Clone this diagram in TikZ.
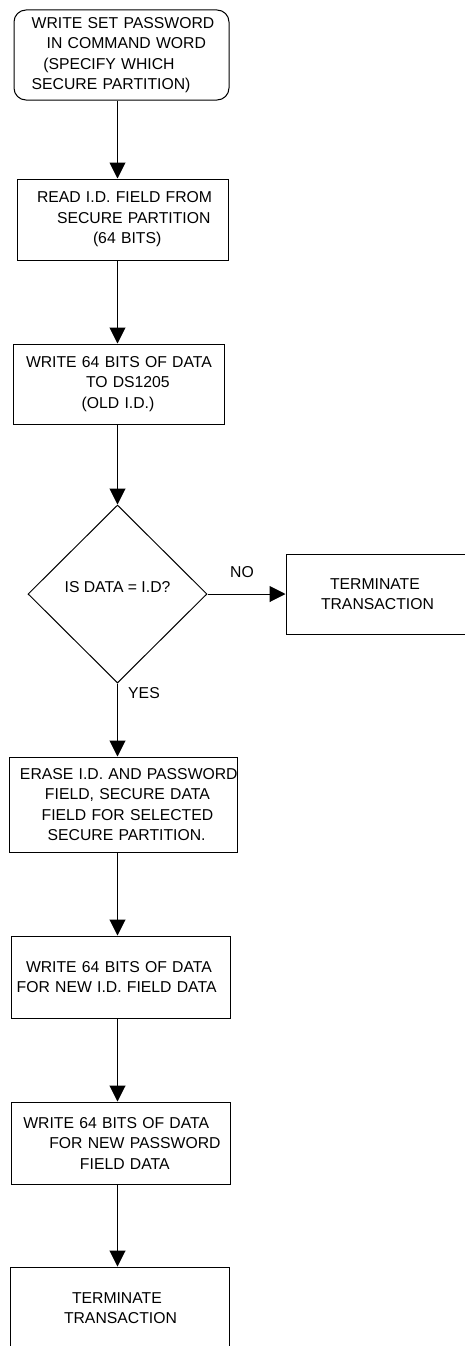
\documentclass[tikz,border=0pt]{standalone}
\usepackage{fontspec}
\setmainfont{Liberation Sans}
\usetikzlibrary{arrows.meta,shapes.geometric}

\begin{document}
\begin{tikzpicture}[x=1pt,y=1pt,line width=1pt,
    stepbox/.style={draw,rectangle,inner xsep=0pt,inner ysep=0pt,align=left},
    testbox/.style={draw,diamond,inner sep=0pt,minimum width=179pt,minimum height=178pt},
    arr/.style={-{Triangle[width=16pt,length=16pt]}}]
    \tikzstyle{every node}+=[font=\fontsize{15.75}{20.5}\selectfont]
    \useasboundingbox (0,0) rectangle (464,-1346);
    \coordinate (spine) at (117.5,0);
    \node [stepbox,rounded corners=12pt,text width=215pt,minimum height=90pt] (setpw) at (121.5,-55)
        {\hspace*{17.7pt}WRITE SET PASSWORD\\ \hspace*{32.7pt}IN COMMAND WORD\\
         \hspace*{29.3pt}(SPECIFY WHICH\\ \hspace*{17.7pt}SECURE PARTITION)};
    \node [stepbox,text width=211pt,minimum height=81pt] (readid) at (122.5,-219.5)
        {\hspace*{20pt}READ I.D. FIELD FROM\\ \hspace*{40pt}SECURE PARTITION\\ \hspace*{76pt}(64 BITS)};
    \node [stepbox,text width=211pt,minimum height=80pt] (oldid) at (118.5,-384)
        {\hspace*{13pt}WRITE 64 BITS OF DATA\\ \hspace*{73pt}TO DS1205\\ \hspace*{68.7pt}(OLD I.D.)};
    \node [testbox,text depth=14pt] (match) at (117.5,-594) {IS DATA = I.D?};
    \node [stepbox,text width=200pt,minimum height=80pt] (stopno) at (386,-594)
        {\hspace*{44pt}TERMINATE\\ \hspace*{35pt}TRANSACTION};
    \node [stepbox,text width=228pt,minimum height=95pt] (erase) at (123,-804.5)
        {\hspace*{11pt}\mbox{ERASE I.D. AND PASSWORD}\\ \hspace*{36pt}FIELD, SECURE DATA\\
         \hspace*{32.7pt}FIELD FOR SELECTED\\ \hspace*{38.7pt}SECURE PARTITION.};
    \node [stepbox,text width=219pt,minimum height=82pt] (newid) at (120.5,-977)
        {\hspace*{15pt}WRITE 64 BITS OF DATA\\ \hspace*{5.7pt}FOR NEW I.D. FIELD DATA};
    \node [stepbox,text width=219pt,minimum height=82pt] (newpw) at (120.5,-1143)
        {\hspace*{12.3pt}WRITE 64 BITS OF DATA\\ \hspace*{38.3pt}FOR NEW PASSWORD\\ \hspace*{69pt}FIELD DATA};
    \node [stepbox,text width=219pt,minimum height=82pt] (stopend) at (119.5,-1308)
        {\hspace*{62pt}TERMINATE\\ \hspace*{54pt}TRANSACTION};
    \node (no) at (242,-572) {NO};
    \node (yes) at (144,-693) {YES};
    \draw [arr] (setpw.south -| spine) -- (readid.north -| spine);
    \draw [arr] (readid.south -| spine) -- (oldid.north -| spine);
    \draw [arr] (oldid.south -| spine) -- (match.north);
    \draw [arr] (match.east) -- (stopno.west);
    \draw [arr] (match.south) -- (erase.north -| spine);
    \draw [arr] (erase.south -| spine) -- (newid.north -| spine);
    \draw [arr] (newid.south -| spine) -- (newpw.north -| spine);
    \draw [arr] (newpw.south -| spine) -- (stopend.north -| spine);
\end{tikzpicture}
\end{document}
